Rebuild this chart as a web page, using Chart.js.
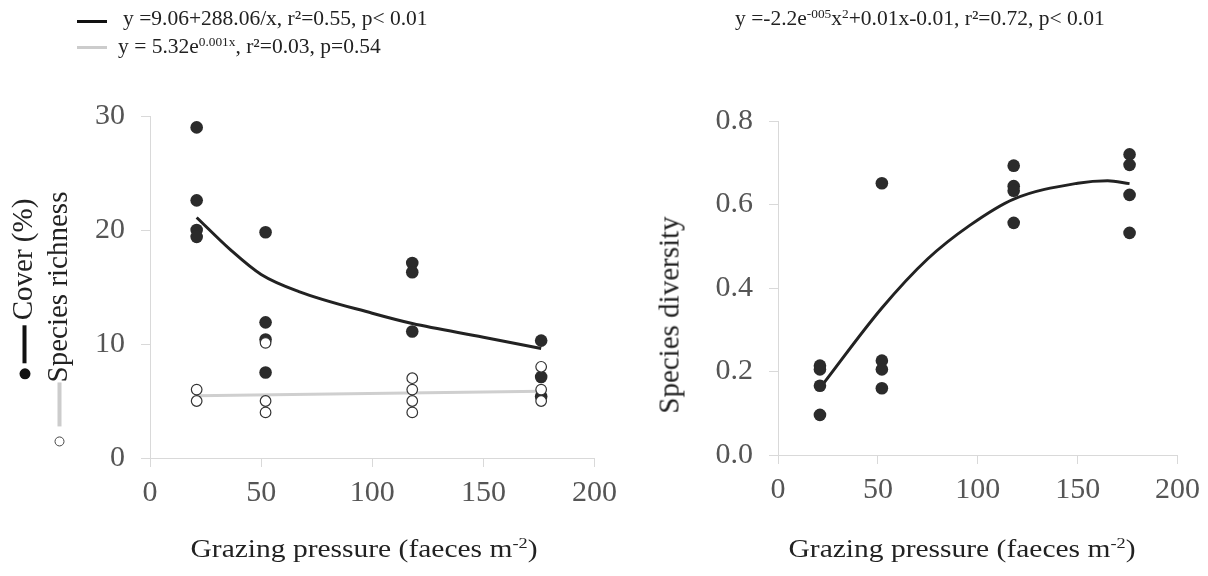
<!DOCTYPE html>
<html lang="en">
<head>
  <meta charset="UTF-8">
  <script src="https://cdn.jsdelivr.net/npm/chart.js"></script>
  <title>Grazing pressure</title>
  <style>
    body { margin: 0; background: #fff; font-family: 'Liberation Serif', 'Times New Roman', serif; color: #222; }
    #wrap { position: relative; width: 1208px; height: 576px; overflow: hidden; }
    canvas { position: absolute; top: 0; }
    .txt { position: absolute; white-space: nowrap; line-height: 1; }
    .eq { font-size: 21.5px; }
    .eq sup { font-size: 0.62em; vertical-align: 0.55em; line-height: 0; }
    .swatch { position: absolute; height: 3px; width: 30px; }
    .xt { font-size: 25px; transform: translateX(-50%) scaleX(1.18); }
    .xt sup { font-size: 0.62em; vertical-align: 0.55em; line-height: 0; }
    .rot { position: absolute; white-space: nowrap; line-height: 1; font-size: 29px;
           transform: translate(-50%, -50%) rotate(-90deg); }
    .dot { display: inline-block; width: 11px; height: 11px; border-radius: 50%; background: #111; vertical-align: middle; }
    .ring { display: inline-block; width: 8px; height: 8px; border-radius: 50%; border: 1px solid #444; vertical-align: middle; }
    .bar { display: inline-block; height: 4px; vertical-align: middle; }
  </style>
</head>
<body>
<div id="wrap">
  <canvas id="left" width="625" height="576" style="left:0"></canvas>
  <canvas id="right" width="568" height="576" style="left:640px"></canvas>

  <div class="swatch" style="left:77px;top:20px;background:#111"></div>
  <div class="txt eq" style="left:123px;top:8px">y =9.06+288.06/x, r²=0.55, p&lt; 0.01</div>
  <div class="swatch" style="left:77px;top:46px;background:#ccc"></div>
  <div class="txt eq" style="left:118px;top:36px">y = 5.32e<sup>0.001x</sup>, r²=0.03, p=0.54</div>
  <div class="txt eq" style="left:735px;top:8px">y =-2.2e<sup>-005</sup>x<sup>2</sup>+0.01x-0.01, r²=0.72, p&lt; 0.01</div>

  <div class="txt xt" style="left:364px;top:536px">Grazing pressure (faeces m<sup>-2</sup>)</div>
  <div class="txt xt" style="left:962px;top:536px">Grazing pressure (faeces m<sup>-2</sup>)</div>

  <div class="rot" style="left:22px;top:289px"><span class="dot"></span><span class="bar" style="width:38px;background:#111;margin:0 5px"></span>Cover (%)</div>
  <div class="rot" style="left:57px;top:319px"><span class="ring"></span><span class="bar" style="width:44px;background:#ccc;margin-left:10px"></span>Species richness</div>
  <div class="rot" style="left:669px;top:315px">Species diversity</div>
</div>
<script>
  // grazing pressure of the four sites
  const coverX = [21, 21, 21, 21, 52, 52, 52, 52, 118, 118, 118, 176, 176, 176];
  const coverY = [29, 22.6, 20, 19.4, 19.8, 11.9, 10.4, 7.5, 17.1, 16.3, 11.1, 10.3, 7.1, 5.4];
  const richX = [21, 21, 52, 52, 52, 118, 118, 118, 118, 176, 176, 176];
  const richY = [6, 5, 10.1, 5, 4, 7, 6, 5, 4, 8, 6, 5];
  // fitted curves
  const coverFitX = [21, 36, 50, 67, 100, 118, 150, 176];
  const coverFitY = [21.1, 18.3, 16.1, 14.6, 12.7, 11.8, 10.6, 9.6];
  const richFitX = [21, 176];
  const richFitY = [5.45, 5.85];

  const divX = [21, 21, 21, 21, 52, 52, 52, 52, 118, 118, 118, 118, 176, 176, 176, 176];
  const divY = [0.214, 0.205, 0.166, 0.096, 0.651, 0.226, 0.205, 0.16, 0.693, 0.644, 0.633, 0.556, 0.72, 0.695, 0.623, 0.532];
  const divFitX = [21, 52, 75, 96, 118, 150, 165, 176];
  const divFitY = [0.16, 0.352, 0.47, 0.55, 0.613, 0.651, 0.657, 0.65];

  const xTicks = [0, 50, 100, 150, 200];

  const pts = (xs, ys) => xs.map((x, i) => ({ x, y: ys[i] }));
  const axisGrey = '#d9d9d9';
  const tickFont = { family: "'Liberation Serif', serif", size: 30 };
  const tickColor = '#555';

  function axes(yMax, yStep, yWidth, xHeight, yFmt) {
    return {
      x: {
        type: 'linear', min: xTicks[0], max: xTicks[xTicks.length - 1],
        afterBuildTicks: s => { s.ticks = xTicks.map(v => ({ value: v })); },
        grid: { drawOnChartArea: false, color: axisGrey, tickLength: 9 },
        border: { color: axisGrey },
        ticks: { font: tickFont, color: tickColor, padding: 8, maxRotation: 0 },
        afterFit: s => { s.height = xHeight; }
      },
      y: {
        min: 0, max: yMax,
        grid: { drawOnChartArea: false, color: axisGrey, tickLength: 9 },
        border: { color: axisGrey },
        ticks: { stepSize: yStep, font: tickFont, color: tickColor, padding: 16, callback: yFmt },
        afterFit: s => { s.width = yWidth; }
      }
    };
  }

  const common = {
    responsive: false,
    animation: false,
    plugins: { legend: { display: false }, tooltip: { enabled: false } }
  };

  new Chart(document.getElementById('left'), {
    type: 'scatter',
    data: {
      datasets: [
        { data: pts(coverFitX, coverFitY), showLine: true, borderColor: '#222', borderWidth: 3,
          pointRadius: 0, cubicInterpolationMode: 'monotone', order: 4 },
        { data: pts(richFitX, richFitY), showLine: true, borderColor: '#cfcfcf', borderWidth: 3,
          pointRadius: 0, order: 3 },
        { data: pts(coverX, coverY), pointRadius: 6.3, backgroundColor: '#2b2b2b', borderColor: '#2b2b2b',
          borderWidth: 0, order: 2 },
        { data: pts(richX, richY), pointRadius: 5.3, backgroundColor: '#fff', borderColor: '#333',
          borderWidth: 1.2, order: 1 }
      ]
    },
    options: Object.assign({}, common, {
      layout: { autoPadding: false, padding: { top: 116, right: 30, left: 0, bottom: 0 } },
      scales: axes(30, 10, 150, 118, v => v)
    })
  });

  new Chart(document.getElementById('right'), {
    type: 'scatter',
    data: {
      datasets: [
        { data: pts(divFitX, divFitY), showLine: true, borderColor: '#222', borderWidth: 3,
          pointRadius: 0, cubicInterpolationMode: 'monotone', order: 2 },
        { data: pts(divX, divY), pointRadius: 6.3, backgroundColor: '#2b2b2b', borderColor: '#2b2b2b',
          borderWidth: 0, order: 1 }
      ]
    },
    options: Object.assign({}, common, {
      layout: { autoPadding: false, padding: { top: 121, right: 30, left: 0, bottom: 0 } },
      scales: axes(0.8, 0.2, 138, 121, v => v.toFixed(1))
    })
  });
</script>
</body>
</html>
